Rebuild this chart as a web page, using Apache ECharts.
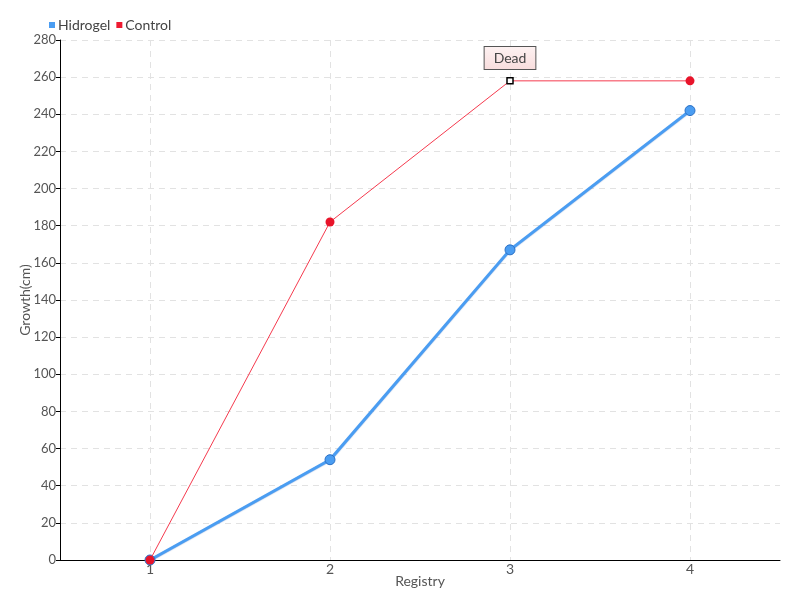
<!DOCTYPE html>
<html><head><meta charset="utf-8">
<script src="https://cdn.jsdelivr.net/npm/echarts@6/dist/echarts.min.js"></script>
<style>html,body{margin:0;padding:0;background:#fff}#c{width:800px;height:600px}</style>
</head><body><div id="c"></div>
<script>
const categories = ['1', '2', '3', '4'];
const hidrogel = [0, 54, 167, 242];
const control = [0, 182, 258, 258];
const deadIndex = 2;
const deadLabel = 'Dead';
const yTicks = { min: 0, max: 280, interval: 20 };

const FONT = "Lato, 'Liberation Sans', sans-serif";
const chart = echarts.init(document.getElementById('c'));
const controlData = control.map((v, i) => i === deadIndex ? {
  value: v,
  symbol: 'rect', symbolSize: 6,
  itemStyle: { color: '#fff', borderColor: '#000', borderWidth: 1.5 },
  label: {
    show: true, position: 'top', distance: 8, formatter: deadLabel,
    fontFamily: FONT, fontSize: 14, color: '#444',
    backgroundColor: { type: 'linear', x: 0, y: 0, x2: 0, y2: 1, colorStops: [{offset: 0, color: '#fdf2f2'}, {offset: 1, color: '#f8dcdc'}] },
    borderColor: '#555', borderWidth: 1, padding: [4, 9, 4, 9]
  }
} : v);

chart.setOption({
  animation: false,
  textStyle: { fontFamily: FONT },
  legend: {
    left: 44, top: 13, itemWidth: 6, itemHeight: 6, itemGap: 6,
    icon: 'rect',
    textStyle: { fontFamily: FONT, fontSize: 14, color: '#444', padding: [0, 0, 0, -2] },
    data: [
      { name: 'Hidrogel', itemStyle: { color: '#4a9df2', borderWidth: 0 } },
      { name: 'Control', itemStyle: { color: '#ee1a30', borderWidth: 0 } }
    ]
  },
  grid: { left: 60, right: 20, top: 40, bottom: 40, containLabel: false },
  xAxis: {
    type: 'category', data: categories, boundaryGap: true,
    name: 'Registry', nameLocation: 'middle', nameGap: 14, nameMoveOverlap: false,
    nameTextStyle: { fontFamily: FONT, fontSize: 14, color: '#555' },
    axisLine: { lineStyle: { color: '#000', width: 1 } },
    axisTick: { alignWithLabel: true, length: 5, lineStyle: { color: '#555' } },
    axisLabel: { fontFamily: FONT, fontSize: 14, color: '#555', margin: 2 },
    splitLine: { show: true, alignWithLabel: true, lineStyle: { color: '#e2e2e2', type: [6, 5] } }
  },
  yAxis: {
    type: 'value', min: yTicks.min, max: yTicks.max, interval: yTicks.interval,
    name: 'Growth(cm)', nameLocation: 'middle', nameGap: 28, nameMoveOverlap: false,
    nameTextStyle: { fontFamily: FONT, fontSize: 14, color: '#555' },
    axisLine: { show: true, lineStyle: { color: '#000', width: 1 } },
    axisTick: { show: true, length: 4, lineStyle: { color: '#000' } },
    axisLabel: { fontFamily: FONT, fontSize: 13, color: '#555', margin: 4 },
    splitLine: { show: true, lineStyle: { color: '#e2e2e2', type: [6, 5] } }
  },
  series: [
    {
      name: 'Hidrogel', type: 'line', data: hidrogel, z: 2,
      symbol: 'circle', symbolSize: 10,
      lineStyle: { color: '#4a9df2', width: 3, shadowColor: 'rgba(30,90,180,0.4)', shadowBlur: 1, shadowOffsetY: 0.5 },
      itemStyle: { color: '#4a9df2', borderColor: '#2a6fc4', borderWidth: 1 }
    },
    {
      name: 'Control', type: 'line', data: controlData, z: 3,
      symbol: 'circle', symbolSize: 9,
      lineStyle: { color: '#f53a4e', width: 1 },
      itemStyle: { color: '#e8142a' }
    }
  ]
});
</script></body></html>
